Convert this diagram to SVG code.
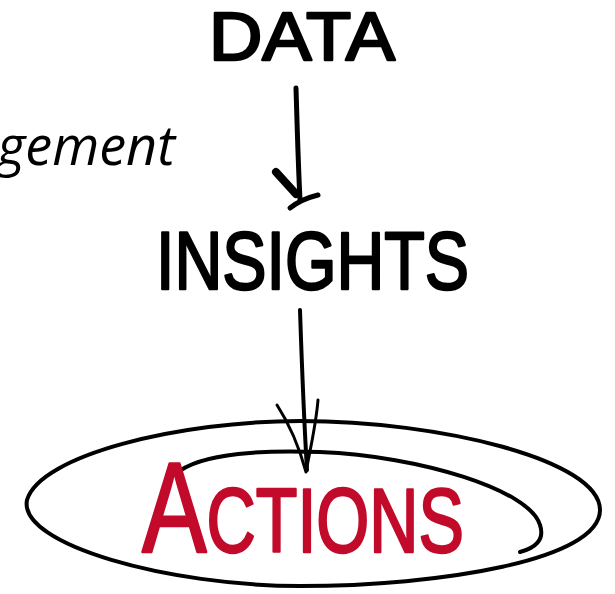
<svg xmlns="http://www.w3.org/2000/svg" width="615" height="594" viewBox="0 0 615 594">
  <style>
    .hand { font-family: "Liberation Sans", Arial, sans-serif; fill: #000; stroke: #000; stroke-width: 2.5; stroke-linejoin: round; }
    .red { fill: #c20a2b; stroke: #c20a2b; }
    .ink { fill: none; stroke: #000; stroke-linecap: round; stroke-linejoin: round; }
    .side { font-family: "Open Sans", "Liberation Sans", sans-serif; font-style: italic; fill: #000; }
  </style>
  <rect width="615" height="594" fill="#fff"/>
  <g id="label-management">
    <text class="side" x="175" y="165" font-size="54" text-anchor="end">gement</text>
  </g>
  <g id="node-data">
    <text class="hand" x="209" y="60" font-size="68" textLength="186" lengthAdjust="spacingAndGlyphs">DATA</text>
  </g>
  <g id="node-insights">
    <text class="hand" x="156" y="289" font-size="82" textLength="313" lengthAdjust="spacingAndGlyphs">INSIGHTS</text>
  </g>
  <g id="node-actions">
    <path class="ink" stroke-width="4" d="M300,421 C180,421 40,455 27,500 C18,545 170,586 300,586 C440,586 600,560 600,510 C600,460 440,421 300,421 Z"/>
    <path class="ink" stroke-width="4" d="M176,474 C200,452 270,450 320,452 C420,456 530,490 540,525 C545,540 535,548 520,552"/>
    <text class="hand red" x="142" y="552" font-size="90" textLength="322" lengthAdjust="spacingAndGlyphs"><tspan font-size="128">A</tspan>CTIONS</text>
  </g>
  <g id="connectors">
    <path class="ink" stroke-width="5" d="M296,88 C297,120 298,160 300,200"/>
    <path class="ink" stroke-width="8" d="M276,172 L296,194"/>
    <path class="ink" stroke-width="5" d="M290,208 C300,200 310,197 318,195"/>
    <path class="ink" stroke-width="4" d="M300,310 C302,370 304,420 307,470"/>
    <path class="ink" stroke-width="3" d="M277,405 C290,425 300,450 306,472 C310,450 316,425 318,400"/>
  </g>
</svg>
